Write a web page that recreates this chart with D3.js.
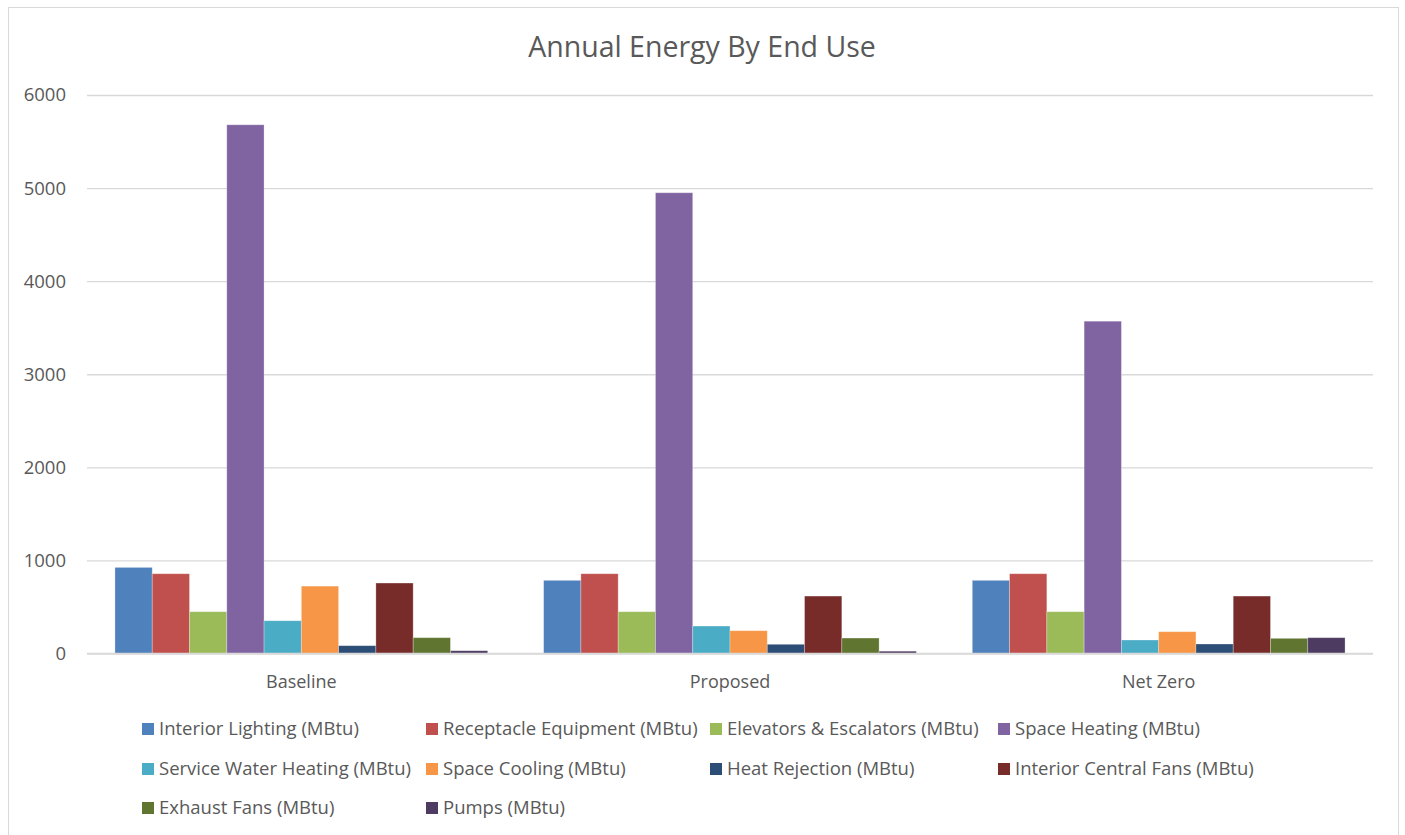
<!DOCTYPE html>
<html>
<head>
<meta charset="utf-8">
<script src="https://cdn.jsdelivr.net/npm/d3@7"></script>
<style>
  html, body { margin: 0; padding: 0; background: #fff; }
  svg { display: block; }
  text { font-family: "Open Sans", "Liberation Sans", sans-serif; fill: #595959; }
</style>
</head>
<body>
<svg id="chart" width="1405" height="835"></svg>
<script>
// ---------- data ----------
const categories = ["Baseline", "Proposed", "Net Zero"];
const seriesNames = [
  "Interior Lighting (MBtu)",
  "Receptacle Equipment (MBtu)",
  "Elevators & Escalators (MBtu)",
  "Space Heating (MBtu)",
  "Service Water Heating (MBtu)",
  "Space Cooling (MBtu)",
  "Heat Rejection (MBtu)",
  "Interior Central Fans (MBtu)",
  "Exhaust Fans (MBtu)",
  "Pumps (MBtu)"
];
const seriesColors = ["#4F81BD", "#C0504D", "#9BBB59", "#8064A2", "#4BACC6",
                      "#F79646", "#2C4D75", "#772C2A", "#5F7530", "#4D3B62"];
// values per series, in order of categories
const interiorLighting   = [925, 786, 786];
const receptacle         = [857, 857, 857];
const elevators          = [449, 449, 449];
const spaceHeating       = [5680, 4950, 3570];
const serviceWaterHeat   = [352, 295, 145];
const spaceCooling       = [724, 245, 234];
const heatRejection      = [84, 99, 102];
const interiorFans       = [757, 617, 617];
const exhaustFans        = [170, 166, 163];
const pumps              = [30, 25, 170];
const seriesValues = [interiorLighting, receptacle, elevators, spaceHeating, serviceWaterHeat,
                      spaceCooling, heatRejection, interiorFans, exhaustFans, pumps];
const yTicks = [0, 1000, 2000, 3000, 4000, 5000, 6000];
const title = "Annual Energy By End Use";

// ---------- layout ----------
const svg = d3.select("#chart");
const plot = { left: 87, right: 1373, top: 95, bottom: 653.5 };

// chart border
svg.append("rect")
  .attr("x", 8.5).attr("y", 7.5).attr("width", 1390).attr("height", 840)
  .attr("fill", "none").attr("stroke", "#d9d9d9").attr("stroke-width", 1);

// title
svg.append("text")
  .attr("x", 702).attr("y", 57)
  .attr("text-anchor", "middle")
  .style("font-size", "28.5px")
  .text(title);

const y = d3.scaleLinear().domain([0, 6000]).range([plot.bottom, plot.top]);
const x0 = d3.scaleBand().domain(categories).range([plot.left, plot.right]).padding(0);
const gap = x0.bandwidth() * 1.5 / 11.5;
const x1 = d3.scaleBand().domain(seriesNames).range([gap / 2, x0.bandwidth() - gap / 2]).padding(0);

// gridlines + y labels
const yAxis = d3.axisLeft(y).tickValues(yTicks).tickFormat(d3.format("d"))
  .tickSize(-(plot.right - plot.left)).tickPadding(21);
const ga = svg.append("g").attr("transform", `translate(${plot.left},0)`).call(yAxis);
ga.select(".domain").remove();
ga.selectAll(".tick line").attr("stroke", "#d9d9d9").attr("stroke-width", 1.3);
ga.selectAll(".tick text").style("font-size", "18.5px").attr("fill", "#595959")
  .style("font-family", "\"Open Sans\", sans-serif");

// bars
const groups = svg.append("g").selectAll("g")
  .data(categories)
  .join("g")
  .attr("transform", d => `translate(${x0(d)},0)`);

groups.selectAll("rect")
  .data((c, ci) => seriesNames.map((s, si) => ({ s, si, v: seriesValues[si][ci] })))
  .join("rect")
  .attr("x", d => x1(d.s))
  .attr("width", x1.bandwidth())
  .attr("y", d => y(d.v))
  .attr("height", d => y(0) - y(d.v))
  .attr("fill", d => seriesColors[d.si])
  .attr("stroke", "rgba(255,255,255,0.35)")
  .attr("stroke-width", 0.8);

// category axis labels
const xa = svg.append("g").attr("transform", `translate(0,${plot.bottom})`)
  .call(d3.axisBottom(x0).tickSize(0).tickPadding(0));
xa.select(".domain").remove();
xa.selectAll(".tick text").attr("dy", null).attr("y", 34.5)
  .style("font-size", "18px").attr("fill", "#595959")
  .style("font-family", "\"Open Sans\", sans-serif");

// baseline axis line
svg.append("line")
  .attr("x1", plot.left).attr("x2", plot.right)
  .attr("y1", y(0)).attr("y2", y(0))
  .attr("stroke", "#d9d9d9").attr("stroke-width", 1.3);

// legend
const legCols = [142, 426, 710, 998];
const legRows = [729, 769, 808];
const legend = svg.append("g");
seriesNames.forEach((name, i) => {
  const col = i % 4, row = Math.floor(i / 4);
  const g = legend.append("g").attr("transform", `translate(${legCols[col]},${legRows[row]})`);
  g.append("rect").attr("x", 0).attr("y", -6).attr("width", 12).attr("height", 12)
    .attr("fill", seriesColors[i]);
  g.append("text").attr("x", 17).attr("y", 0).attr("dy", "0.35em")
    .style("font-size", "18.5px").text(name);
});
</script>
</body>
</html>
